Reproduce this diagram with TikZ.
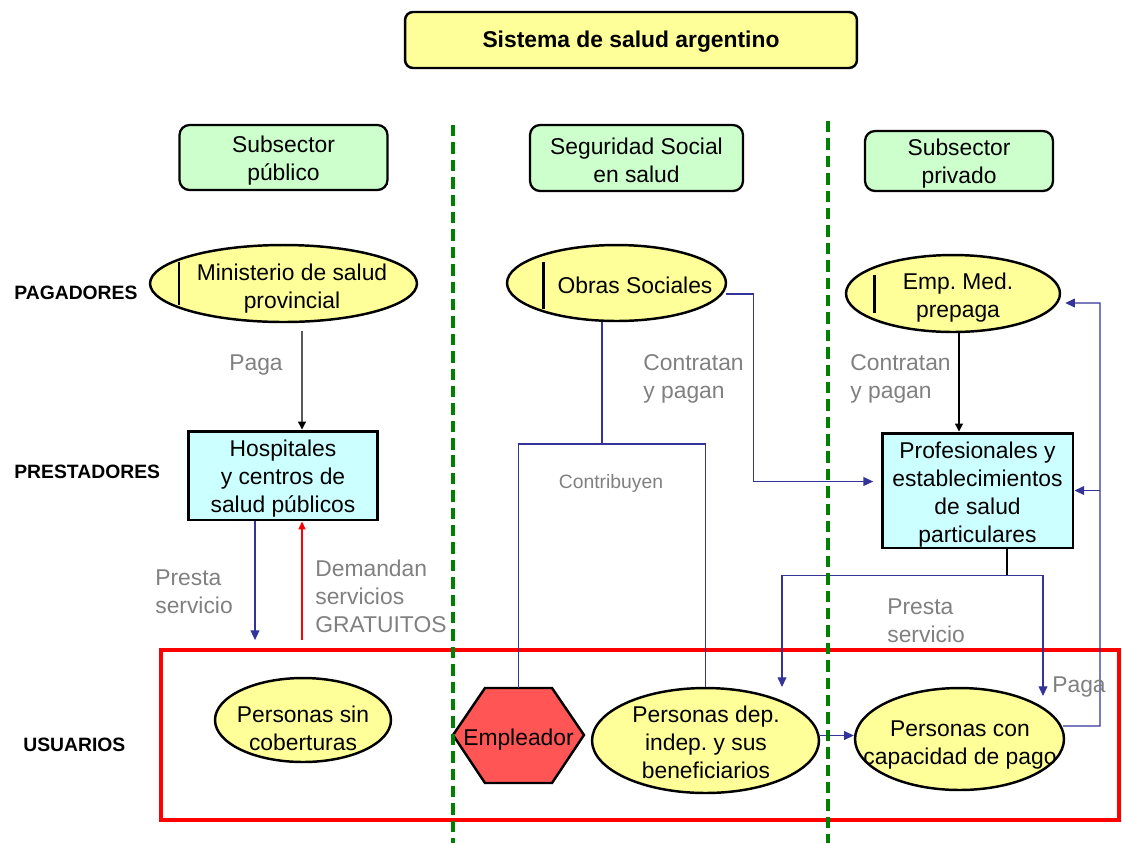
\documentclass[tikz,border=0pt]{standalone}
\usepackage{fontspec}
\setmainfont{Liberation Sans}
\usetikzlibrary{shapes.geometric,arrows.meta,calc}
\frenchspacing

\definecolor{boxyellow}{RGB}{255,255,153}
\definecolor{hdrgreen}{RGB}{204,255,204}
\definecolor{boxcyan}{RGB}{204,255,255}
\definecolor{linkblue}{RGB}{51,51,153}
\definecolor{labelgray}{RGB}{128,128,128}
\definecolor{sepgreen}{RGB}{0,128,0}
\definecolor{hexred}{RGB}{255,85,85}

\begin{document}
\begin{tikzpicture}[x=0.02cm,y=-0.02cm,
  every node/.style={font=\fontsize{13}{16}\selectfont\frenchspacing, align=center, inner sep=0pt},
  titlebox/.style={draw, line width=1.4pt, rounded corners=0.16cm, fill=boxyellow},
  titletext/.style={font=\fontsize{13}{16}\selectfont\bfseries},
  hdr/.style={draw, line width=1.3pt, rounded corners=0.2cm, fill=hdrgreen},
  ell/.style={ellipse, draw, line width=1.4pt, fill=boxyellow},
  prov/.style={rectangle, draw, line width=1.7pt, fill=boxcyan},
  hexa/.style={draw, line width=1.4pt, fill=hexred},
  bar/.style={line width=1.7pt},
  lbl/.style={text=labelgray, align=left, anchor=west},
  rowlbl/.style={font=\fontsize{11}{13}\selectfont\bfseries, anchor=west},
  conn/.style={draw=linkblue, line width=0.7pt},
  bluetip/.style={-{Triangle[length=5.5pt, width=5pt]}},
  blacklink/.style={draw=black, line width=0.7pt, -{Triangle[length=4.5pt, width=4.5pt]}},
  redlink/.style={draw=red, line width=0.7pt, -{Triangle[length=4.5pt, width=4pt]}},
  sep/.style={draw=sepgreen, line width=2pt, dash pattern=on 6.5pt off 3.4pt},
]
\useasboundingbox (0,0) rectangle (1122,843);

% Title
\node[titlebox, minimum width=9.04cm, minimum height=1.12cm] (title) at (631,40) {};
\node[titletext] (titlet) at (631,42) {Sistema de salud argentino};

% Sector headers
\node[hdr, minimum width=4.16cm, minimum height=1.3cm] (pub) at (283.5,157.5) {};
\node (pubt) at (283.5,160.5) {Subsector\\público};
\node[hdr, minimum width=4.26cm, minimum height=1.32cm] (ss) at (636.5,158) {};
\node (sst) at (636.5,160) {Seguridad Social\\en salud};
\node[hdr, minimum width=3.76cm, minimum height=1.2cm] (priv) at (959,161) {};
\node (privt) at (959,164) {Subsector\\privado};

% Row labels
\node[rowlbl] (rpag) at (14,293) {PAGADORES};
\node[rowlbl] (rpre) at (14,472) {PRESTADORES};
\node[rowlbl] (rusu) at (23,745) {USUARIOS};

% Users frame
\node[draw=red, line width=2.3pt, minimum width=19.16cm, minimum height=3.4cm] (ubox) at (640,735) {};

% Payers
\node[ell, minimum width=5.34cm, minimum height=1.54cm] (min) at (283.5,283.5) {};
\node (mint) at (292,289) {Ministerio de salud\\provincial};
\draw[bar] ($(min.center)+(-104.5,-21.5)$) -- ($(min.center)+(-104.5,21.5)$);

\node[ell, minimum width=4.38cm, minimum height=1.52cm] (obras) at (616.5,283) {};
\node (obrast) at (635,285) {Obras Sociales};
\draw[bar] ($(obras.center)+(-73.5,-21)$) -- ($(obras.center)+(-73.5,26)$);

\node[ell, minimum width=4.28cm, minimum height=1.54cm] (emp) at (953,293.5) {};
\node (empt) at (958,297.5) {Emp. Med.\\prepaga};
\draw[bar] ($(emp.center)+(-79,-18.5)$) -- ($(emp.center)+(-79,19.5)$);

% Providers
\node[prov, minimum width=3.8cm, minimum height=1.78cm] (hosp) at (283,475.5) {};
\node (hospt) at (283,478.5) {Hospitales\\y centros de\\salud públicos};
\node[prov, minimum width=3.82cm, minimum height=2.3cm] (prof) at (977.5,490.5) {};
\node (proft) at (977.5,494.5) {Profesionales y\\establecimientos\\de salud\\particulares};

% Users
\node[ell, minimum width=3.52cm, minimum height=1.68cm] (sin) at (303,720) {};
\node (sint) at (303,728) {Personas sin\\coberturas};

\draw[hexa] (453,735) -- (485,688) -- (552,688) -- (584,735) -- (552,783) -- (485,783) -- cycle;
\node[minimum width=2.62cm, minimum height=1.9cm] (emple) at (518.5,735.5) {};
\node (emplet) at (518.5,739.5) {Empleador};

\node[ell, minimum width=4.54cm, minimum height=2.1cm] (dep) at (705.5,740.5) {};
\node (dept) at (706,742) {Personas dep.\\indep. y sus\\beneficiarios};

\node[ell, minimum width=4.18cm, minimum height=2.04cm] (con) at (959.5,739) {};
\node (cont) at (960,745) {Personas con\\capacidad de pago};

% Public subsector flows
\draw[blacklink] ($(min.south)+(18.5,8)$) -- ($(hosp.north)+(19,0)$);
\node[text=labelgray] (lpaga) at (256,365) {Paga};
\coordinate (hs) at ($(hosp.south)+(-28,0)$);
\coordinate (hd) at ($(hosp.south)+(19,0)$);
\draw[conn, bluetip, shorten >=4.5pt] (hs) -- (hs |- ubox.north);
\draw[redlink, shorten <=4.5pt] (hd |- ubox.north) -- (hd);
\node[lbl] (lpres1) at (155,592) {Presta\\servicio};
\node[lbl] (ldem) at (315,596) {Demandan\\servicios\\GRATUITOS};

% Social security flows
\coordinate (os) at ($(obras.south)+(-14.5,0)$);
\coordinate (cj) at (602,444);
\draw[conn] (os) -- (cj);
\draw[conn] (emple.north) |- (cj) -| (dep.north);
\node[text=labelgray, font=\fontsize{11}{13}\selectfont] (lcontr) at (611,483) {Contribuyen};

\coordinate (oe) at ($(obras.east)+(-1,11)$);
\draw[conn, bluetip, shorten >=4.2pt] (oe) -- ++(27,0) |- ($(prof.west)+(0,-9)$);
\node[lbl] (lcp1) at (643,379) {Contratan\\y pagan};

% Private subsector flows
\draw[blacklink] ($(emp.south)+(6,0)$) -- ($(prof.north)+(-18.5,0)$);
\node[lbl] (lcp2) at (850,379) {Contratan\\y pagan};

\coordinate (pb) at ($(prof.south)+(29.5,0)$);
\coordinate (pj) at ($(prof.south)+(29.5,26)$);
\draw[line width=0.7pt] (pb) -- (pj);
\draw[conn, bluetip] (pj) -| ($(dep.center)+(76.5,-53.5)$);
\draw[conn, bluetip] (pj) -| ($(con.center)+(83.5,-43)$);
\node[lbl] (lpres2) at (887,621) {Presta\\servicio};

\coordinate (de) at ($(dep.east)+(0,-5)$);
\draw[conn, bluetip] (de) -- (de -| con.west);

\coordinate (ce) at ($(con.east)+(-2,-13)$);
\coordinate (lp) at (1100,303);
\draw[conn, bluetip] (ce) -| (lp) -- ($(emp.east)+(4,9.5)$);
\draw[conn, bluetip] (prof.east -| lp) -- (prof.east);
\node[lbl] (lpaga2) at (1052,687) {Paga};

% Sector separators
\draw[sep] (453,125) -- (453,843);
\draw[sep] (828,121) -- (828,843);
\end{tikzpicture}
\end{document}
